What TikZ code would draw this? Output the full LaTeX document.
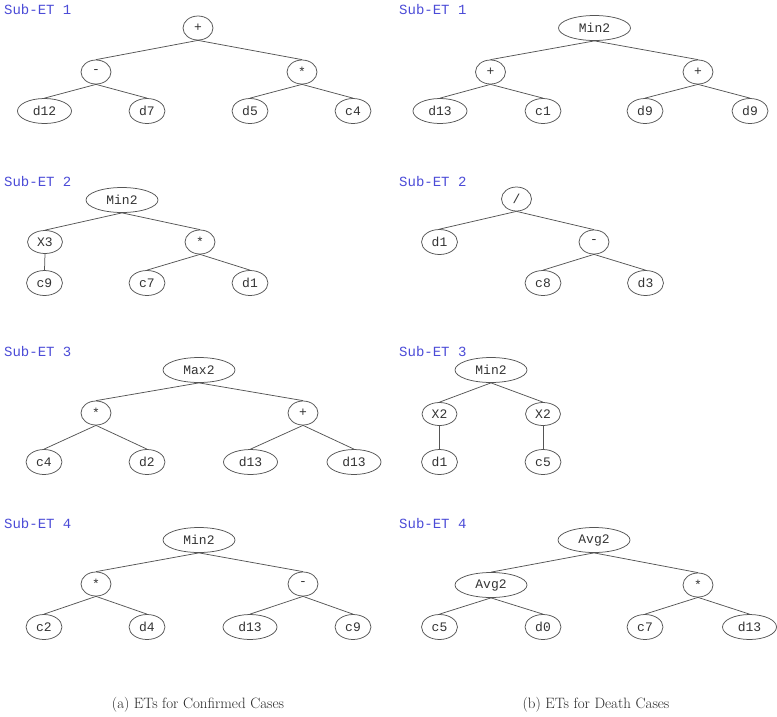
\documentclass[tikz,border=0pt]{standalone}
\usepackage{fontspec}
\newfontfamily\monof{Liberation Mono}
\usetikzlibrary{shapes.geometric}
\definecolor{lblue}{RGB}{75,75,215}
\definecolor{edgec}{RGB}{85,85,85}
\tikzset{
  base/.style={ellipse,draw=edgec,line width=0.75pt,inner sep=0pt,font=\monof\fontsize{13}{13}\selectfont,text=black!80},
  op/.style={base,minimum width=30pt,minimum height=24pt},
  leaf/.style={base,minimum width=36pt,minimum height=25pt},
  wide/.style={base,minimum width=54pt,minimum height=25pt},
  fn/.style={base,minimum width=72pt,minimum height=25pt},
  xn/.style={base,minimum width=35pt,minimum height=23pt},
  lbl/.style={anchor=west,inner sep=0pt,text=lblue,font=\monof\fontsize{14}{14}\selectfont},
  captxt/.style={inner sep=0pt,font=\fontsize{15}{15}\selectfont,text=black!85},
  e/.style={draw=edgec,line width=0.75pt}
}
\begin{document}
\begin{tikzpicture}[x=1pt,y=-1pt]
\useasboundingbox (0,0) rectangle (777,716);
% ---------- left column (a) ----------
% Sub-ET 1
\node[lbl] (la1) at (4,9) {Sub-ET 1};
\node[op] (a1r) at (198,28) {+};
\node[op] (a1l) at (96,72) {-};
\node[op] (a1m) at (302,72) {*};
\node[wide] (a1x1) at (44.5,111) {d12};
\node[leaf] (a1x2) at (147,111) {d7};
\node[leaf] (a1x3) at (250,111) {d5};
\node[leaf] (a1x4) at (353,111) {c4};
\draw[e] (a1r.south) -- (a1l.north);
\draw[e] (a1r.south) -- (a1m.north);
\draw[e] (a1l.south) -- (a1x1.north);
\draw[e] (a1l.south) -- (a1x2.north);
\draw[e] (a1m.south) -- (a1x3.north);
\draw[e] (a1m.south) -- (a1x4.north);
% Sub-ET 2
\node[lbl] (la2) at (4,181) {Sub-ET 2};
\node[fn] (a2r) at (122,200) {Min2};
\node[xn] (a2l) at (45,242) {X3};
\node[op] (a2m) at (200,242) {*};
\node[leaf] (a2x1) at (44.5,283) {c9};
\node[leaf] (a2x2) at (147,283) {c7};
\node[leaf] (a2x3) at (250,283) {d1};
\draw[e] (a2r.south) -- (a2l.north);
\draw[e] (a2r.south) -- (a2m.north);
\draw[e] (a2l.south) -- (a2x1.north);
\draw[e] (a2m.south) -- (a2x2.north);
\draw[e] (a2m.south) -- (a2x3.north);
% Sub-ET 3
\node[lbl] (la3) at (4,351) {Sub-ET 3};
\node[fn] (a3r) at (199,370) {Max2};
\node[op] (a3l) at (96,413) {*};
\node[op] (a3m) at (303,413) {+};
\node[leaf] (a3x1) at (44,462) {c4};
\node[leaf] (a3x2) at (147,462) {d2};
\node[wide] (a3x3) at (250.5,462) {d13};
\node[wide] (a3x4) at (354,462) {d13};
\draw[e] (a3r.south) -- (a3l.north);
\draw[e] (a3r.south) -- (a3m.north);
\draw[e] (a3l.south) -- (a3x1.north);
\draw[e] (a3l.south) -- (a3x2.north);
\draw[e] (a3m.south) -- (a3x3.north);
\draw[e] (a3m.south) -- (a3x4.north);
% Sub-ET 4
\node[lbl] (la4) at (4,523) {Sub-ET 4};
\node[fn] (a4r) at (199,540) {Min2};
\node[op] (a4l) at (96,584) {*};
\node[op] (a4m) at (303,584) {-};
\node[leaf] (a4x1) at (44,627) {c2};
\node[leaf] (a4x2) at (147,627) {d4};
\node[wide] (a4x3) at (250,627) {d13};
\node[leaf] (a4x4) at (353,627) {c9};
\draw[e] (a4r.south) -- (a4l.north);
\draw[e] (a4r.south) -- (a4m.north);
\draw[e] (a4l.south) -- (a4x1.north);
\draw[e] (a4l.south) -- (a4x2.north);
\draw[e] (a4m.south) -- (a4x3.north);
\draw[e] (a4m.south) -- (a4x4.north);
% ---------- right column (b) ----------
% Sub-ET 1
\node[lbl] (lb1) at (399,9) {Sub-ET 1};
\node[fn] (b1r) at (594.5,28) {Min2};
\node[op] (b1l) at (490.5,72) {+};
\node[op] (b1m) at (698,72) {+};
\node[wide] (b1x1) at (440,111) {d13};
\node[leaf] (b1x2) at (543,111) {c1};
\node[leaf] (b1x3) at (645,111) {d9};
\node[leaf] (b1x4) at (750,111) {d9};
\draw[e] (b1r.south) -- (b1l.north);
\draw[e] (b1r.south) -- (b1m.north);
\draw[e] (b1l.south) -- (b1x1.north);
\draw[e] (b1l.south) -- (b1x2.north);
\draw[e] (b1m.south) -- (b1x3.north);
\draw[e] (b1m.south) -- (b1x4.north);
% Sub-ET 2
\node[lbl] (lb2) at (399,181) {Sub-ET 2};
\node[op] (b2r) at (516.5,199) {/};
\node[leaf] (b2l) at (439.5,242) {d1};
\node[op] (b2m) at (594,242) {-};
\node[leaf] (b2x1) at (543,283) {c8};
\node[leaf] (b2x2) at (645.5,283) {d3};
\draw[e] (b2r.south) -- (b2l.north);
\draw[e] (b2r.south) -- (b2m.north);
\draw[e] (b2m.south) -- (b2x1.north);
\draw[e] (b2m.south) -- (b2x2.north);
% Sub-ET 3
\node[lbl] (lb3) at (399,351) {Sub-ET 3};
\node[fn] (b3r) at (491,370) {Min2};
\node[xn] (b3l) at (439.5,414) {X2};
\node[xn] (b3m) at (543,414) {X2};
\node[leaf] (b3x1) at (439.5,462) {d1};
\node[leaf] (b3x2) at (543,462) {c5};
\draw[e] (b3r.south) -- (b3l.north);
\draw[e] (b3r.south) -- (b3m.north);
\draw[e] (b3l.south) -- (b3x1.north);
\draw[e] (b3m.south) -- (b3x2.north);
% Sub-ET 4
\node[lbl] (lb4) at (399,523) {Sub-ET 4};
\node[fn] (b4r) at (594,540) {Avg2};
\node[fn] (b4l) at (491,585) {Avg2};
\node[op] (b4m) at (698,585) {*};
\node[leaf] (b4x1) at (439.5,627) {c5};
\node[leaf] (b4x2) at (543,627) {d0};
\node[leaf] (b4x3) at (645,627) {c7};
\node[wide] (b4x4) at (749.5,627) {d13};
\draw[e] (b4r.south) -- (b4l.north);
\draw[e] (b4r.south) -- (b4m.north);
\draw[e] (b4l.south) -- (b4x1.north);
\draw[e] (b4l.south) -- (b4x2.north);
\draw[e] (b4m.south) -- (b4x3.north);
\draw[e] (b4m.south) -- (b4x4.north);
% captions
\node[captxt] (capa) at (198,705) {(a) ETs for Confirmed Cases};
\node[captxt] (capb) at (596,705) {(b) ETs for Death Cases};
\end{tikzpicture}
\end{document}
